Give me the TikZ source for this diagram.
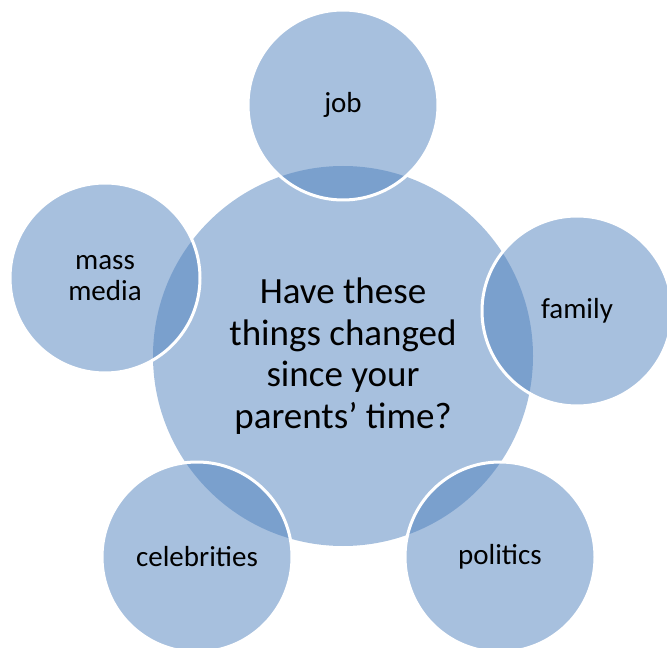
\documentclass[tikz,border=0pt]{standalone}
\usepackage{fontspec}
\setmainfont{Carlito}
\usepackage{tikz}

\definecolor{accent}{HTML}{4F81BD}

\begin{document}
\begin{tikzpicture}[x=0.75pt, y=-0.75pt,
        hub/.style={circle, inner sep=0, minimum size=285pt, fill=accent, fill opacity=.5,
            text opacity=1, align=center, font=\fontsize{27.75}{31.1}\selectfont},
        bubble/.style={circle, inner sep=0, minimum size=142.5pt, fill=accent, fill opacity=.5,
            text opacity=1, draw=white, line width=2.25pt, align=center,
            font=\fontsize{21.75}{23.8}\selectfont}]
        \useasboundingbox (0,0) rectangle (667,648);
        \node[hub] (centre) at (343,356) {Have these\\things changed\\since your\\parents' time?};
        \foreach \name/\x/\y/\txt in {job/343/105/job, family/577/311/family,
                politics/500/557/politics, celebs/197/557/celebrities, media/105/278/mass\\media} {
            \node[bubble] (\name) at (\x,\y) {\txt};
        }
    \end{tikzpicture}
\end{document}
